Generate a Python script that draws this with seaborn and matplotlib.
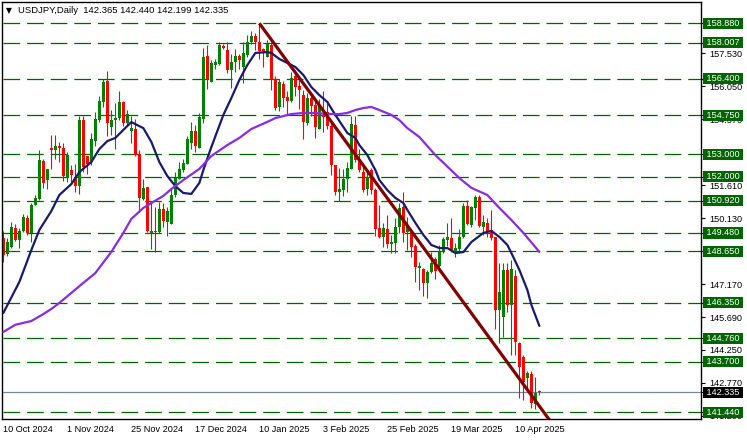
import matplotlib as mpl
import matplotlib.pyplot as plt
import matplotlib.transforms as mtransforms
import seaborn as sns
import numpy as np
import pandas as pd

# daily candles, values
opens = [149.23, 148.52, 148.86, 149.68, 149.16, 149.56, 150.16, 149.46, 150.75, 150.99,
         152.69, 151.85, 153.31, 153.22, 153.36, 153.28, 151.94, 152.28, 151.99, 151.58,
         154.56, 152.92, 152.66, 153.58, 154.56, 155.34, 156.29, 154.25, 154.56, 154.62,
         155.37, 154.40, 154.06, 154.15, 153.03, 151.02, 151.52, 149.46, 149.56, 149.53,
         150.54, 149.98, 149.89, 151.17, 151.91, 152.28, 152.58, 153.51, 154.07, 153.30,
         154.59, 157.42, 156.26, 157.03, 157.05, 157.87, 157.69, 156.80, 157.15, 157.42,
         156.94, 157.47, 158.02, 158.31, 158.05, 157.72, 157.39, 157.90, 156.38, 155.11,
         156.16, 155.56, 155.41, 156.53, 156.05, 155.65, 154.41, 155.52, 155.22, 154.15,
         154.77, 154.89, 154.29, 152.51, 151.32, 151.39, 151.88, 152.36, 154.34, 152.73,
         152.22, 151.43, 152.30, 151.40, 149.69, 149.28, 149.64, 148.98, 149.04, 149.76,
         150.63, 149.52, 149.54, 148.89, 147.92, 147.85, 147.25, 147.74, 148.30, 148.00,
         148.68, 149.16, 149.27, 148.64, 148.74, 149.28, 150.68, 149.83, 150.58, 151.07,
         149.73, 149.91, 149.61, 149.28, 146.03, 145.73, 147.82, 146.25, 147.55, 144.56,
         143.90, 142.96, 143.16, 141.81, 142.365]
highs = [149.56, 149.23, 149.98, 149.86, 149.68, 150.31, 150.27, 150.80, 151.20, 153.18,
         152.78, 152.36, 153.85, 153.85, 153.55, 153.52, 153.10, 152.51, 152.58, 154.74,
         154.74, 152.95, 153.97, 154.89, 155.63, 156.38, 156.75, 155.01, 155.31, 155.86,
         155.41, 155.01, 154.71, 154.59, 153.21, 151.91, 151.54, 150.87, 150.65, 150.87,
         150.80, 150.65, 151.47, 152.21, 152.66, 152.81, 153.82, 154.47, 154.32, 154.86,
         157.79, 157.90, 157.24, 157.27, 158.05, 157.93, 158.05, 157.50, 157.72, 157.50,
         158.02, 158.34, 158.54, 158.46, 158.88, 157.79, 158.14, 158.02, 156.53, 156.38,
         156.30, 155.86, 156.71, 156.65, 156.53, 155.90, 155.75, 155.71, 155.49, 155.49,
         155.86, 155.41, 154.44, 152.54, 152.39, 152.36, 152.66, 154.74, 154.74, 153.25,
         152.45, 152.30, 152.37, 151.48, 150.73, 149.91, 150.28, 149.39, 150.13, 150.80,
         151.33, 150.18, 149.64, 148.98, 148.19, 147.89, 147.82, 148.64, 148.42, 148.94,
         149.31, 149.91, 150.13, 149.04, 149.64, 150.80, 150.95, 150.69, 151.18, 151.18,
         150.28, 150.13, 150.51, 149.31, 148.12, 148.12, 148.12, 148.27, 147.82, 144.61,
         144.01, 143.27, 143.27, 143.04, 142.440]
lows = [148.19, 148.46, 148.81, 149.11, 148.81, 149.53, 149.38, 149.08, 150.72, 150.94,
        151.49, 151.44, 152.36, 152.81, 152.66, 151.81, 151.76, 151.76, 151.32, 151.24,
        152.21, 152.11, 152.54, 153.37, 154.44, 155.11, 153.82, 153.85, 153.25, 154.56,
        154.29, 154.29, 153.52, 152.95, 150.42, 150.97, 149.53, 148.78, 148.61, 149.46,
        149.75, 149.35, 149.86, 151.09, 151.88, 152.21, 152.55, 153.25, 153.10, 153.28,
        154.41, 155.93, 156.23, 156.83, 157.00, 157.72, 156.65, 155.96, 156.68, 156.83,
        156.20, 157.35, 157.94, 157.67, 157.27, 156.90, 157.35, 155.90, 155.01, 154.96,
        155.11, 154.82, 155.34, 155.63, 155.04, 153.70, 154.32, 154.74, 153.73, 154.12,
        154.00, 154.15, 152.06, 151.17, 150.90, 151.14, 151.32, 152.33, 152.66, 152.21,
        151.33, 151.18, 151.22, 149.34, 149.24, 148.86, 148.79, 148.60, 148.60, 149.49,
        149.09, 148.72, 148.39, 147.30, 146.92, 146.65, 146.55, 147.67, 147.40, 147.82,
        148.57, 148.89, 148.64, 148.42, 148.64, 149.24, 149.83, 149.76, 150.06, 149.73,
        149.39, 149.31, 149.16, 145.16, 144.53, 144.83, 145.95, 144.01, 144.01, 142.07,
        141.99, 142.44, 141.62, 141.57, 142.199]
closes = [148.49, 149.08, 149.74, 149.16, 149.56, 150.19, 149.49, 150.75, 151.05, 152.73,
          151.72, 152.33, 153.22, 153.36, 153.28, 152.02, 152.98, 152.09, 151.58, 154.56,
          152.43, 152.58, 153.70, 154.59, 155.41, 156.26, 154.40, 154.56, 154.65, 155.37,
          154.40, 154.80, 154.18, 152.98, 151.05, 151.49, 149.56, 149.56, 149.50, 150.57,
          150.01, 150.45, 151.17, 151.94, 152.36, 152.60, 153.67, 154.07, 153.36, 154.67,
          157.39, 156.38, 157.12, 157.15, 157.91, 157.79, 156.78, 157.15, 157.42, 157.24,
          157.53, 158.05, 158.31, 158.02, 157.64, 157.54, 157.93, 156.38, 155.07, 156.26,
          155.52, 155.41, 156.44, 156.02, 155.90, 154.47, 155.52, 155.16, 154.25, 155.22,
          154.67, 154.29, 152.51, 151.32, 151.44, 151.91, 152.39, 154.37, 152.73, 152.28,
          151.40, 152.00, 151.40, 149.64, 149.31, 149.69, 148.98, 149.06, 149.76, 150.58,
          149.46, 149.79, 148.86, 147.97, 147.98, 147.25, 147.74, 148.15, 147.79, 148.64,
          149.19, 149.31, 148.68, 148.79, 149.31, 150.68, 149.88, 150.63, 151.07, 149.79,
          149.98, 149.58, 149.24, 146.03, 146.85, 147.82, 146.25, 147.85, 144.61, 143.46,
          142.81, 143.19, 141.84, 142.32, 142.335]

# two moving averages (candle index, price)
fast_ma_idx = [0, 4, 7, 9, 12, 14, 17, 19, 22, 24, 26, 28, 30, 32, 35, 37, 39, 41, 43, 45,
               47, 49, 50, 52, 55, 57, 59, 61, 63, 66, 67, 69, 71, 73, 75, 77, 79, 81, 83, 84,
               86, 88, 89, 91, 93, 94, 96, 98, 100, 101, 103, 105, 107, 109, 111, 113, 115, 117,
               120, 122, 124, 126, 127, 129, 131, 132, 134]
fast_ma = [145.89, 147.28, 148.71, 149.61, 150.46, 151.18, 151.67, 152.21, 152.66, 153.24,
           153.60, 153.74, 154.10, 154.45, 154.18, 153.56, 152.66, 152.03, 151.58, 151.27,
           151.23, 151.72, 152.30, 153.33, 154.77, 155.53, 156.34, 157.01, 157.55, 157.59,
           157.55, 157.28, 157.10, 156.92, 156.56, 156.02, 155.66, 155.35, 154.77, 154.50,
           153.96, 153.74, 153.42, 152.97, 152.30, 151.85, 151.40, 151.05, 150.82, 150.51,
           149.93, 149.39, 148.94, 148.80, 148.80, 148.58, 148.62, 149.07, 149.48, 149.57,
           149.30, 148.94, 148.58, 147.82, 146.92, 146.25, 145.31]
slow_ma_idx = [0, 3, 7, 10, 12, 14, 17, 20, 23, 27, 30, 32, 35, 37, 40, 42, 45, 49, 52, 56,
               59, 62, 66, 68, 72, 75, 78, 81, 84, 86, 88, 90, 92, 94, 97, 99, 101, 104, 108,
               114, 117, 121, 124, 127, 130, 134]
slow_ma = [145.04, 145.36, 145.53, 145.84, 146.07, 146.34, 146.79, 147.24, 147.68, 148.63,
           149.48, 150.11, 150.60, 150.82, 151.14, 151.45, 151.85, 152.35, 152.93, 153.42,
           153.74, 154.14, 154.46, 154.63, 154.81, 154.86, 154.86, 154.81, 154.81, 154.86,
           154.99, 155.08, 155.13, 154.99, 154.77, 154.54, 154.18, 153.78, 152.97, 151.94,
           151.50, 151.18, 150.60, 150.06, 149.48, 148.63]

# down trendline anchors
trend_idx = [64, 140]
trend_px = [158.88, 140.24]

levels = [158.880, 158.007, 156.400, 154.750, 153.000, 152.000, 150.920,
          149.480, 148.650, 146.350, 144.760, 143.700, 141.440]
axis_ticks = [157.530, 156.050, 154.570, 151.610, 150.130, 147.170,
              145.690, 144.250, 142.770, 141.290]

symbol = "USDJPY,Daily"
dates = pd.bdate_range("2024-10-10", periods=len(closes), freq="C",
                       holidays=["2024-12-25", "2025-01-01"])

sns.set_style("white")
plt.rcParams["font.family"] = ["Liberation Sans", "DejaVu Sans"]
plt.rcParams["lines.scale_dashes"] = False

fig = plt.figure(figsize=(7.47, 4.40), dpi=100)
ax = fig.add_axes([2 / 747, 21 / 440, 699 / 747, 417 / 440])

idx = np.arange(len(closes))
o = np.array(opens)
c = np.array(closes)
up = c >= o
col = np.where(up, "#008000", "#ff0000")

# horizontal levels
for lv in levels:
    ax.hlines(lv, 0, 180, color="#006400", lw=0.9, linestyle=(0, (12, 5)), zorder=1)
ax.axhline(closes[-1], color="#778899", lw=0.9, zorder=1)

# candles
ax.vlines(idx, lows, highs, colors=col, lw=0.8, zorder=2)
body = np.maximum(np.abs(c - o), 0.045)
ax.bar(idx, body, bottom=np.minimum(o, c), width=0.72, color=col, lw=0, zorder=2)

# moving averages
sns.lineplot(x=fast_ma_idx, y=fast_ma, ax=ax, color="#191970", lw=1.6, zorder=3)
sns.lineplot(x=slow_ma_idx, y=slow_ma, ax=ax, color="#8a2be2", lw=1.6, zorder=3)
ax.plot(trend_idx, trend_px, color="#800000", lw=2.3, zorder=4, solid_capstyle="butt")

ax.set_xlim(-0.33, 174.4)
ax.set_ylim(141.136, 159.835)

# x axis: one label every 16 bars
xt = list(range(0, len(closes), 16))
ax.set_xticks(xt)
ax.set_xticklabels([f"{dates[i].day} {dates[i]:%b %Y}" for i in xt], fontsize=6.6)
for lab in ax.get_xticklabels():
    lab.set_ha("left")
ax.tick_params(axis="x", direction="out", length=3, width=0.8, pad=1.5, colors="black")

# y axis on the right
ax.yaxis.tick_right()
yt = axis_ticks + levels + [closes[-1]]
ax.set_yticks(yt)
ax.set_yticklabels([f"{v:.3f}" for v in axis_ticks] + [""] * (len(levels) + 1), fontsize=6.6)
ax.tick_params(axis="y", direction="out", length=3, width=0.8, pad=3, colors="black")

for sp in ax.spines.values():
    sp.set_visible(True)
    sp.set_color("black")
    sp.set_linewidth(1.0)

trans = mtransforms.blended_transform_factory(ax.transAxes, ax.transData)
for lv in levels:
    ax.text(1.004, lv, f" {lv:.3f} ", transform=trans, ha="left", va="center",
            fontsize=6.6, color="white", clip_on=False, zorder=6,
            bbox=dict(boxstyle="square,pad=0.12", fc="#006400", ec="none"))
ax.text(1.004, closes[-1], f" {closes[-1]:.3f} ", transform=trans, ha="left", va="center",
        fontsize=6.6, color="white", clip_on=False, zorder=6,
        bbox=dict(boxstyle="square,pad=0.12", fc="black", ec="none"))

# header
head = f"{symbol}  {opens[-1]:.3f} {highs[-1]:.3f} {lows[-1]:.3f} {closes[-1]:.3f}"
fig.text(6 / 747, 1 - 10.5 / 440, "\u25bc", fontsize=5.5, va="center", ha="left",
         family=["DejaVu Sans"], color="black")
fig.text(18 / 747, 1 - 10.5 / 440, head, fontsize=6.8, va="center", ha="left", color="black")

fig.savefig("out.png", dpi=100, facecolor="white")
